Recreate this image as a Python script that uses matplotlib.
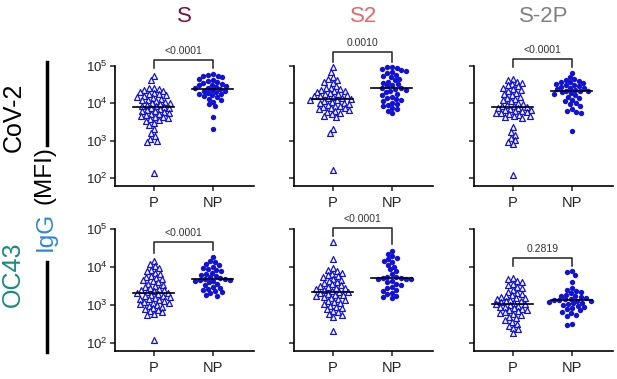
import numpy as np
import matplotlib
matplotlib.use("Agg")
import matplotlib.pyplot as plt

plt.rcParams['font.family'] = ['Liberation Sans', 'DejaVu Sans']
plt.rcParams['mathtext.fontset'] = 'custom'
plt.rcParams['mathtext.rm'] = 'Liberation Sans'
plt.rcParams['mathtext.it'] = 'Liberation Sans'

# log10(MFI) valores leidos del grafico
# fila CoV-2
s_p = [4.72, 4.62, 4.42, 4.40, 4.38, 4.35, 4.33, 4.30, 4.28, 4.26, 4.24, 4.22, 4.20, 4.18,
       4.15, 4.12, 4.10, 4.08, 4.06, 4.04, 4.02, 4.00, 3.98, 3.96, 3.94, 3.92, 3.90, 3.88,
       3.86, 3.84, 3.82, 3.80, 3.78, 3.76, 3.74, 3.72, 3.70, 3.68, 3.66, 3.64, 3.62, 3.60,
       3.58, 3.55, 3.52, 3.48, 3.42, 3.30, 3.20, 3.12, 3.05, 3.00, 2.96, 2.12]
s_np = [4.78, 4.76, 4.74, 4.72, 4.70, 4.66, 4.63, 4.60, 4.58, 4.55, 4.52, 4.50, 4.48, 4.46,
        4.44, 4.42, 4.40, 4.38, 4.36, 4.34, 4.32, 4.30, 4.28, 4.26, 4.24, 4.22, 4.20, 4.16,
        4.12, 4.08, 4.04, 3.98, 3.92, 3.64, 3.32]
s2_p = [4.96, 4.84, 4.70, 4.66, 4.62, 4.58, 4.55, 4.45, 4.42, 4.40, 4.38, 4.36, 4.34, 4.32,
        4.30, 4.28, 4.26, 4.24, 4.22, 4.20, 4.19, 4.17, 4.15, 4.14, 4.12, 4.10, 4.08, 4.06,
        4.04, 4.02, 4.00, 3.98, 3.96, 3.94, 3.92, 3.90, 3.88, 3.86, 3.84, 3.82, 3.80, 3.77,
        3.74, 3.70, 3.66, 3.62, 3.30, 3.20, 2.20]
s2_np = [4.98, 4.96, 4.94, 4.92, 4.88, 4.86, 4.83, 4.80, 4.76, 4.72, 4.70, 4.66, 4.62, 4.58,
         4.55, 4.52, 4.48, 4.45, 4.42, 4.40, 4.38, 4.36, 4.33, 4.30, 4.26, 4.22, 4.18, 4.15,
         4.12, 4.10, 4.06, 4.02, 3.98, 3.95, 3.92, 3.88, 3.84, 3.80, 3.74]
s2p_p = [4.66, 4.62, 4.58, 4.55, 4.52, 4.48, 4.45, 4.42, 4.38, 4.35, 4.32, 4.28, 4.25, 4.22,
         4.18, 4.15, 4.12, 4.08, 4.05, 4.02, 3.99, 3.96, 3.94, 3.92, 3.90, 3.88, 3.86, 3.84,
         3.83, 3.81, 3.79, 3.78, 3.76, 3.75, 3.73, 3.71, 3.69, 3.67, 3.65, 3.62, 3.60, 3.36,
         3.24, 3.16, 3.08, 3.02, 2.96, 2.90, 2.07]
s2p_np = [4.82, 4.70, 4.64, 4.62, 4.60, 4.58, 4.56, 4.54, 4.52, 4.50, 4.48, 4.46, 4.44, 4.42,
          4.40, 4.38, 4.36, 4.34, 4.33, 4.32, 4.30, 4.28, 4.26, 4.22, 4.18, 4.14, 4.10, 4.06,
          4.02, 3.98, 3.94, 3.84, 3.80, 3.76, 3.74, 3.25]
# fila OC43
oc_s_p = [4.15, 4.08, 4.02, 3.96, 3.92, 3.88, 3.84, 3.80, 3.77, 3.74, 3.71, 3.68, 3.65, 3.62,
          3.59, 3.56, 3.53, 3.50, 3.47, 3.44, 3.42, 3.40, 3.38, 3.36, 3.34, 3.32, 3.30, 3.28,
          3.26, 3.24, 3.22, 3.20, 3.18, 3.16, 3.14, 3.12, 3.10, 3.08, 3.06, 3.04, 3.02, 3.00,
          2.98, 2.95, 2.92, 2.89, 2.86, 2.83, 2.80, 2.76, 2.72, 2.06]
oc_s_np = [4.27, 4.16, 4.12, 4.08, 4.04, 4.00, 3.97, 3.94, 3.91, 3.88, 3.85, 3.82, 3.79, 3.76,
           3.73, 3.70, 3.68, 3.67, 3.66, 3.65, 3.64, 3.62, 3.59, 3.56, 3.52, 3.48, 3.45, 3.42,
           3.39, 3.36, 3.33, 3.30, 3.27, 3.24]
oc_s2_p = [4.65, 4.20, 3.96, 3.92, 3.88, 3.85, 3.82, 3.78, 3.75, 3.72, 3.69, 3.66, 3.63, 3.60,
           3.57, 3.54, 3.51, 3.49, 3.47, 3.45, 3.43, 3.41, 3.39, 3.37, 3.35, 3.33, 3.31, 3.29,
           3.27, 3.25, 3.23, 3.21, 3.19, 3.16, 3.13, 3.10, 3.07, 3.04, 3.01, 2.98, 2.95, 2.92,
           2.88, 2.84, 2.80, 2.76, 2.72, 2.68, 2.32]
oc_s2_np = [4.42, 4.34, 4.28, 4.24, 4.20, 4.16, 4.12, 4.06, 4.00, 3.94, 3.88, 3.80, 3.74, 3.72,
            3.71, 3.70, 3.69, 3.68, 3.67, 3.64, 3.60, 3.56, 3.52, 3.48, 3.44, 3.40, 3.36, 3.32,
            3.28, 3.24, 3.20, 3.17]
oc_s2p_p = [3.71, 3.67, 3.63, 3.59, 3.55, 3.51, 3.47, 3.43, 3.39, 3.35, 3.31, 3.28, 3.25, 3.23,
            3.21, 3.19, 3.17, 3.15, 3.13, 3.11, 3.09, 3.07, 3.05, 3.03, 3.01, 2.99, 2.97, 2.95,
            2.93, 2.91, 2.89, 2.87, 2.85, 2.83, 2.81, 2.78, 2.75, 2.72, 2.68, 2.64, 2.60, 2.55,
            2.50, 2.45, 2.40, 2.36, 2.26]
oc_s2p_np = [3.89, 3.87, 3.78, 3.60, 3.44, 3.40, 3.36, 3.33, 3.30, 3.27, 3.24, 3.22, 3.20, 3.18,
             3.16, 3.14, 3.13, 3.12, 3.11, 3.10, 3.08, 3.06, 3.04, 3.02, 3.00, 2.97, 2.94, 2.91,
             2.88, 2.85, 2.82, 2.78, 2.74, 2.70, 2.48, 2.47]

antigenos = ["S", "S2", "S-2P"]
colores_titulo = ["#7a0f3c", "#e8666b", "#808080"]
grupos = ["P", "NP"]
pvalores = [["<0.0001", "0.0010", "<0.0001"],
            ["<0.0001", "<0.0001", "0.2819"]]
datos = [[(s_p, s_np), (s2_p, s2_np), (s2p_p, s2p_np)],
         [(oc_s_p, oc_s_np), (oc_s2_p, oc_s2_np), (oc_s2p_p, oc_s2p_np)]]

# altura de la barra (log10) y largo de las patas (px)
corchetes = [[(5.15, 8, 8), (5.38, 10, 10), (5.18, 8, 8)],
             [(4.66, 11, 8), (5.03, 8, 16), (4.24, 8, 8)]]

W, H = 617, 379
azul = "#1212d6"
ymin_log, ymax_log = 1.78, 5.0
xmin, xmax = -0.66, 1.70


def enjambre(vals, px_dec, px_x, d=5.0):
    # beeswarm sencillo en pixeles
    y = np.asarray(vals) * px_dec
    xs = np.zeros(len(y))
    puestos = []
    for i in np.argsort(-y):
        cands = [0.0]
        for j in puestos:
            dy = y[i] - y[j]
            if abs(dy) < d:
                dx = np.sqrt(d * d - dy * dy)
                cands += [xs[j] - dx, xs[j] + dx]
        cands.sort(key=lambda v: (abs(v), v))
        for cx in cands:
            if all((cx - xs[j])**2 + (y[i] - y[j])**2 >= d * d - 1e-6 for j in puestos):
                xs[i] = cx
                break
        puestos.append(i)
    return xs / px_x


fig = plt.figure(figsize=(W / 100, H / 100), dpi=100)

lefts = [115, 294, 474]
filas_px = [(66, 186), (229, 351)]
ancho = 139

for r in range(2):
    top, bot = filas_px[r]
    for c in range(3):
        ax = fig.add_axes([lefts[c] / W, 1 - bot / H, ancho / W, (bot - top) / H])
        ax.set_yscale("log")
        ax.set_ylim(10**ymin_log, 10**ymax_log)
        ax.set_xlim(xmin, xmax)
        px_dec = (bot - top) / (ymax_log - ymin_log)
        px_x = ancho / (xmax - xmin)

        for g, vals in enumerate(datos[r][c]):
            off = enjambre(vals, px_dec, px_x)
            yv = 10**np.asarray(vals)
            if g == 0:
                ax.scatter(g + off, yv, marker="^", s=18, facecolor="white",
                           edgecolor=azul, linewidth=0.9, clip_on=False, zorder=3)
            else:
                ax.scatter(g + off, yv, marker="o", s=15, color=azul,
                           linewidth=0, clip_on=False, zorder=3)
            med = 10**np.median(vals)
            ax.plot([g - 0.35, g + 0.35], [med, med], color="black", lw=1.2, zorder=4)

        # corchete de significancia
        b, l1, l2 = corchetes[r][c]
        yb = 10**b
        ax.plot([0, 0, 1, 1], [10**(b - l1 / px_dec), yb, yb, 10**(b - l2 / px_dec)],
                color="#222222", lw=1.1, clip_on=False)
        ax.annotate(pvalores[r][c], xy=(0.5, yb), xytext=(0, 3), textcoords="offset points",
                    ha="center", va="bottom", fontsize=7.5, color="#333333",
                    annotation_clip=False)

        ax.spines["top"].set_visible(False)
        ax.spines["right"].set_visible(False)
        ax.spines["left"].set_linewidth(1.2)
        ax.spines["bottom"].set_linewidth(1.2)
        ax.set_yticks([1e2, 1e3, 1e4, 1e5])
        ax.yaxis.set_minor_locator(matplotlib.ticker.NullLocator())
        ax.set_xticks([0, 1])
        ax.set_xticklabels(grupos, fontsize=10.5)
        ax.tick_params(axis="both", length=3.5, width=1.1, color="#222222",
                       labelcolor="#222222")
        ax.tick_params(axis="y", labelsize=9.5, pad=2)
        if c == 0:
            ax.set_yticklabels(["$10^2$", "$10^3$", "$10^4$", "$10^5$"])
        else:
            ax.set_yticklabels([])

        if r == 0:
            fig.text((lefts[c] + ancho / 2) / W, 1 - 17 / H, antigenos[c],
                     color=colores_titulo[c], fontsize=16, ha="center", va="center")

# etiquetas de la izquierda
fig.text(14 / W, 1 - 117 / H, "CoV-2", rotation=90, fontsize=18, ha="center", va="center")
fig.text(13 / W, 1 - 274 / H, "OC43", rotation=90, fontsize=18, ha="center", va="center",
         color="#1b8a7c")
fig.text(46 / W, 1 - 231 / H, "IgG", rotation=90, fontsize=17.5, ha="center", va="center",
         color="#2e86de")
fig.text(45 / W, 1 - 175 / H, "(MFI)", rotation=90, fontsize=17.5, ha="center", va="center")
fig.add_artist(plt.Line2D([47 / W, 47 / W], [1 - 62 / H, 1 - 145 / H], color="black", lw=2.5))
fig.add_artist(plt.Line2D([47 / W, 47 / W], [1 - 262 / H, 1 - 352 / H], color="black", lw=2.5))

fig.savefig("out.png", dpi=100)
